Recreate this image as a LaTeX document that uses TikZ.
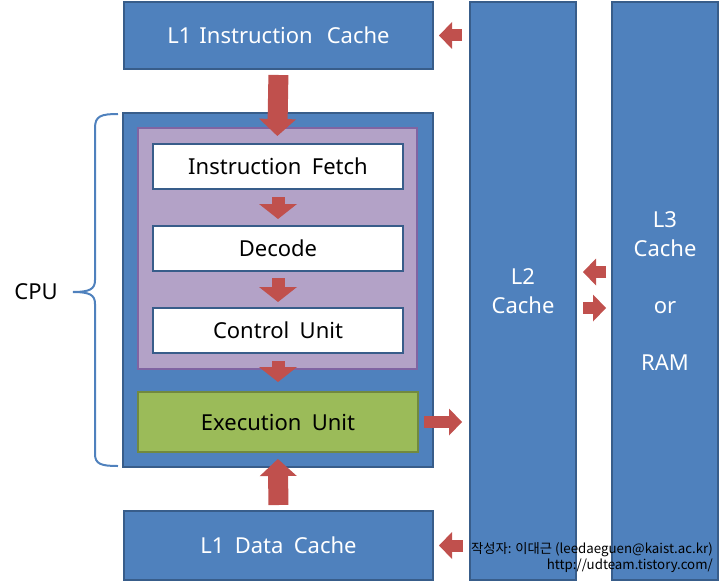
\documentclass[tikz,border=0pt]{standalone}
\usepackage{fontspec}
\setmainfont{Noto Sans}[WordSpace=1.8]
\newfontfamily\krfont{Noto Sans CJK KR}
\usetikzlibrary{arrows.meta,calc}
\definecolor{boxblue}{HTML}{4F81BD}
\definecolor{bluedark}{HTML}{385D8A}
\definecolor{purfill}{HTML}{B3A2C7}
\definecolor{purdark}{HTML}{8064A2}
\definecolor{grnfill}{HTML}{9BBB59}
\definecolor{grndark}{HTML}{71893F}
\definecolor{arrred}{HTML}{C0504D}
\begin{document}
\begin{tikzpicture}[x=1pt,y=-1pt,
  txt/.style={font=\fontsize{22}{28.5}\selectfont, align=center, inner sep=0pt},
  bluebox/.style={txt, draw=bluedark, line width=2pt, fill=boxblue, text=white},
  purbox/.style={draw=purdark, line width=2pt, fill=purfill, inner sep=0pt},
  whitebox/.style={txt, draw=bluedark, line width=2pt, fill=white, text=black,
    minimum width=250pt, minimum height=45pt},
  grnbox/.style={txt, draw=grndark, line width=2pt, fill=grnfill, text=black},
  bigarr/.style={draw=arrred, line width=20pt, -{Triangle[length=17pt,width=37pt,line width=0pt]}},
  smallarr/.style={draw=arrred, line width=13pt, -{Triangle[length=15pt,width=38pt,line width=0pt]}},
  medarr/.style={draw=arrred, line width=12pt, -{Triangle[length=13pt,width=27pt,line width=0pt]}},
  bracestyle/.style={draw=boxblue, line width=2pt}
]
\useasboundingbox (0,0) rectangle (722,583);

\node[bluebox, minimum width=309pt, minimum height=67pt] (l1i) at (278.5,35.5) {L1\hspace{8pt}Instruction\hspace{14pt}Cache};
\node[bluebox, minimum width=310pt, minimum height=354pt] (cpu) at (278,290) {};
\node[purbox, minimum width=279pt, minimum height=241pt] (pur) at (277.5,248.5) {};
\node[whitebox] (fetch) at (278,166.5) {Instruction Fetch};
\node[whitebox] (decode) at (278,248.5) {Decode};
\node[whitebox] (ctrl) at (278,330.5) {Control Unit};
\node[grnbox, minimum width=280pt, minimum height=60pt] (exec) at (278,422) {Execution Unit};
\node[bluebox, minimum width=309pt, minimum height=69pt] (l1d) at (278.5,545.5) {L1 Data Cache};
\node[bluebox, minimum width=106pt, minimum height=578pt] (l2) at (523,291) {L2\\Cache};
\node[bluebox, minimum width=106pt, minimum height=578pt] (l3) at (665,291) {L3\\Cache\\[28.5pt]or\\[28.5pt]RAM};

\node[txt] (cpulbl) at (36,292) {CPU};
\draw[bracestyle] (118,114) .. controls (101,114) and (95,116) .. (95,128) -- (95,280)
  .. controls (95,289) and (90,292) .. (73,292)
  .. controls (90,292) and (95,295) .. (95,304) -- (95,454)
  .. controls (95,464) and (101,466) .. (118,466);

% arrows
\draw[medarr, shorten <=7pt, shorten >=5pt] (l2.west |- l1i.east) -- (l1i.east);
\draw[bigarr, shorten <=5pt, shorten >=-9pt] (l1i.south) -- (pur.north);
\draw[smallarr, shorten <=7pt, shorten >=6pt] (fetch.south) -- (decode.north);
\draw[smallarr, shorten <=6pt, shorten >=5pt] (decode.south) -- (ctrl.north);
\draw[smallarr, shorten <=7pt, shorten >=9pt] (ctrl.south) -- (exec.north);
\draw[medarr, shorten <=5pt, shorten >=7pt] (exec.east) -- (l2.west |- exec.east);
\draw[bigarr, shorten <=5pt, shorten >=-9pt] (l1d.north) -- (cpu.south);
\draw[medarr, shorten <=6pt, shorten >=5pt] (l2.west |- l1d.east) -- (l1d.east);
\coordinate (upy) at (0,272);
\coordinate (dny) at (0,308);
\draw[medarr, shorten <=5pt, shorten >=6pt] (l3.west |- upy) -- (l2.east |- upy);
\draw[medarr, shorten <=6pt, shorten >=5pt] (l2.east |- dny) -- (l3.west |- dny);

\node[anchor=east, align=right, inner sep=0pt, font=\krfont\fontsize{13.3}{16}\selectfont] (credit) at (713,558)
  {작성자: 이대근 (leedaeguen@kaist.ac.kr)\\http://udteam.tistory.com/};
\end{tikzpicture}
\end{document}
